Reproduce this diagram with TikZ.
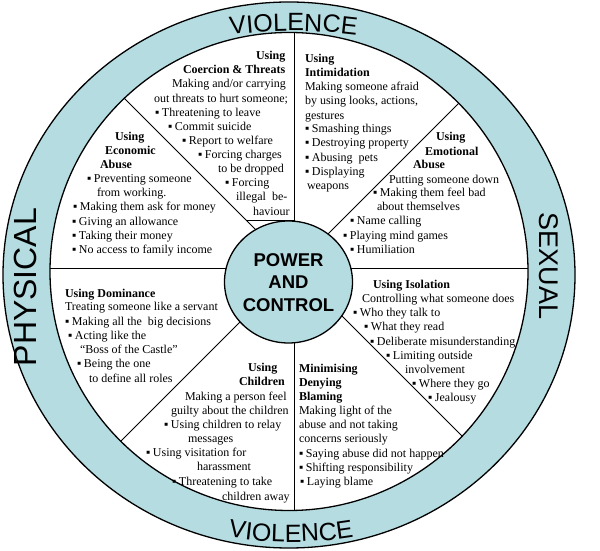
\documentclass[tikz,border=0pt]{standalone}
\usepackage{fontspec}
\setmainfont{Liberation Serif}
\newfontfamily\sansf{Liberation Sans}
\usetikzlibrary{decorations.text}
\definecolor{wheel}{RGB}{180,220,225}
\newcommand\bl{\makebox[7pt][l]{▪}}
\begin{document}
\begin{tikzpicture}[x=1pt,y=1pt,
  tl/.style={anchor=base west, inner sep=0pt, outer sep=0pt, font=\fontsize{12}{14.3}\selectfont},
  hd/.style={tl, font=\bfseries\fontsize{12}{14.3}\selectfont},
  rim/.style={line width=1.3pt},
  spoke/.style={line width=0.9pt},
  bigword/.style={inner sep=0pt, font=\sansf\fontsize{#1}{#1}\selectfont}]
\useasboundingbox (0,0) rectangle (600,551);
% ring
\draw[rim, fill=wheel] (289,551-275) ellipse [x radius=286, y radius=273];
\draw[rim, fill=white] (289,551-271.5) circle [radius=239];
% spokes
\begin{scope}
  \clip (289,551-271.5) circle [radius=239];
  \foreach \a in {0,45,...,315}
    \draw[spoke] (294,551-268) -- ++(\a:400);
\end{scope}
\draw[spoke] (247,551-220.5) -- (294,551-220.5);
% hub
\draw[rim, fill=wheel] (288.5,551-282) ellipse [x radius=64, y radius=61];
\node[inner sep=0pt, align=center, font=\sansf\bfseries\fontsize{18.5}{22.5}\selectfont] (hub) at (288.5,551-282.5) {POWER\\AND\\CONTROL};
% rim words
\path[decorate, decoration={text along path, text={|\sansf\fontsize{25}{25}\selectfont|VIOLENCE}, text align=center}]
  ([shift={(105:500)}]293.5,551-531) arc [start angle=105, end angle=75, radius=500];
\path[decorate, decoration={text along path, text={|\sansf\fontsize{25}{25}\selectfont|VIOLENCE}, text align=center}]
  ([shift={(252:380)}]291,551-162) arc [start angle=252, end angle=288, radius=380];
\node[bigword=32, rotate=90] (phys) at (25,551-287) {PHYSICAL};
\node[bigword=27, rotate=-90] (sex) at (549,551-266) {SEXUAL};
% Coercion & Threats
\node[hd] (c1) at (256,551-60) {Using};
\node[hd] (c2) at (183,551-74) {Coercion \& Threats};
\node[tl] (c3) at (172,551-88) {Making and/or carrying};
\node[tl] (c4) at (154,551-103) {out threats to hurt someone;};
\node[tl] (c5) at (155,551-117) {\bl Threatening to leave};
\node[tl] (c6) at (168,551-131) {\bl Commit suicide};
\node[tl] (c7) at (182,551-145) {\bl Report to welfare};
\node[tl] (c8) at (198,551-159) {\bl Forcing charges};
\node[tl] (c9) at (218,551-173) {to be dropped};
\node[tl] (c10) at (225,551-187) {\bl Forcing};
\node[tl] (c11) at (236,551-201) {illegal\ \ be-};
\node[tl] (c12) at (253,551-216) {haviour};
% Intimidation
\node[hd] (i1) at (305,551-63) {Using};
\node[hd] (i2) at (305,551-77) {Intimidation};
\node[tl] (i3) at (305,551-91) {Making someone afraid};
\node[tl] (i4) at (305,551-105) {by using looks, actions,};
\node[tl] (i5) at (305,551-120) {gestures};
\node[tl] (i6) at (305,551-133) {\bl Smashing things};
\node[tl] (i7) at (305,551-147) {\bl Destroying property};
\node[tl] (i8) at (305,551-162) {\bl Abusing\ \ pets};
\node[tl] (i9) at (305,551-176) {\bl Displaying};
\node[tl] (i10) at (307,551-190) {weapons};
% Emotional Abuse
\node[hd] (e1) at (436,551-141) {Using};
\node[hd] (e2) at (425,551-156) {Emotional};
\node[hd] (e3) at (413,551-169) {Abuse};
\node[tl] (e4) at (389,551-184) {Putting someone down};
\node[tl] (e5) at (373,551-197) {\bl Making them feel bad};
\node[tl] (e6) at (377,551-211) {about themselves};
\node[tl] (e7) at (350,551-225) {\bl Name calling};
\node[tl] (e8) at (343,551-240) {\bl Playing mind games};
\node[tl] (e9) at (350,551-254) {\bl Humiliation};
% Economic Abuse
\node[hd] (m1) at (115,551-141) {Using};
\node[hd] (m2) at (105,551-155) {Economic};
\node[hd] (m3) at (100,551-169) {Abuse};
\node[tl] (m4) at (87,551-183) {\bl Preventing someone};
\node[tl] (m5) at (97,551-197) {from working.};
\node[tl] (m6) at (73,551-211) {\bl Making them ask for money};
\node[tl] (m7) at (72,551-225.5) {\bl Giving an allowance};
\node[tl] (m8) at (72,551-240) {\bl Taking their money};
\node[tl] (m9) at (72,551-254) {\bl No access to family income};
% Dominance
\node[hd] (d1) at (65,551-298) {Using Dominance};
\node[tl] (d2) at (65,551-311) {Treating someone like a servant};
\node[tl] (d3) at (65,551-326) {\bl Making all the\ \ big decisions};
\node[tl] (d4) at (68,551-340) {\bl Acting like the};
\node[tl] (d5) at (80,551-354) {“Boss of the Castle”};
\node[tl] (d6) at (77,551-368) {\bl Being the one};
\node[tl] (d7) at (89,551-383) {to define all roles};
% Children
\node[hd] (h1) at (248,551-372) {Using};
\node[hd] (h2) at (239,551-386) {Children};
\node[tl] (h3) at (185,551-401) {Making a person feel};
\node[tl] (h4) at (171,551-415) {guilty about the children};
\node[tl] (h5) at (164,551-429) {\bl Using children to relay};
\node[tl] (h6) at (188,551-443) {messages};
\node[tl] (h7) at (146,551-457) {\bl Using visitation for};
\node[tl] (h8) at (197,551-471) {harassment};
\node[tl] (h9) at (172,551-486) {\bl Threatening to take};
\node[tl] (h10) at (222,551-501) {children away};
% Minimising
\node[hd] (n1) at (299,551-373) {Minimising};
\node[hd] (n2) at (299,551-387) {Denying};
\node[hd] (n3) at (299,551-401) {Blaming};
\node[tl] (n4) at (299,551-415) {Making light of the};
\node[tl] (n5) at (299,551-429) {abuse and not taking};
\node[tl] (n6) at (299,551-443) {concerns seriously};
\node[tl] (n7) at (299,551-458) {\bl Saying abuse did not happen};
\node[tl] (n8) at (299,551-472) {\bl Shifting responsibility};
\node[tl] (n9) at (300,551-486) {\bl Laying blame};
% Isolation
\node[hd] (s1) at (373,551-289) {Using Isolation};
\node[tl] (s2) at (362,551-303) {Controlling what someone does};
\node[tl] (s3) at (353,551-317) {\bl Who they talk to};
\node[tl] (s4) at (364,551-331) {\bl What they read};
\node[tl] (s5) at (370,551-346) {\bl Deliberate misunderstanding};
\node[tl] (s6) at (386,551-360) {\bl Limiting outside};
\node[tl] (s7) at (405,551-374) {involvement};
\node[tl] (s8) at (412,551-388) {\bl Where they go};
\node[tl] (s9) at (428,551-402) {\bl Jealousy};
\end{tikzpicture}
\end{document}
